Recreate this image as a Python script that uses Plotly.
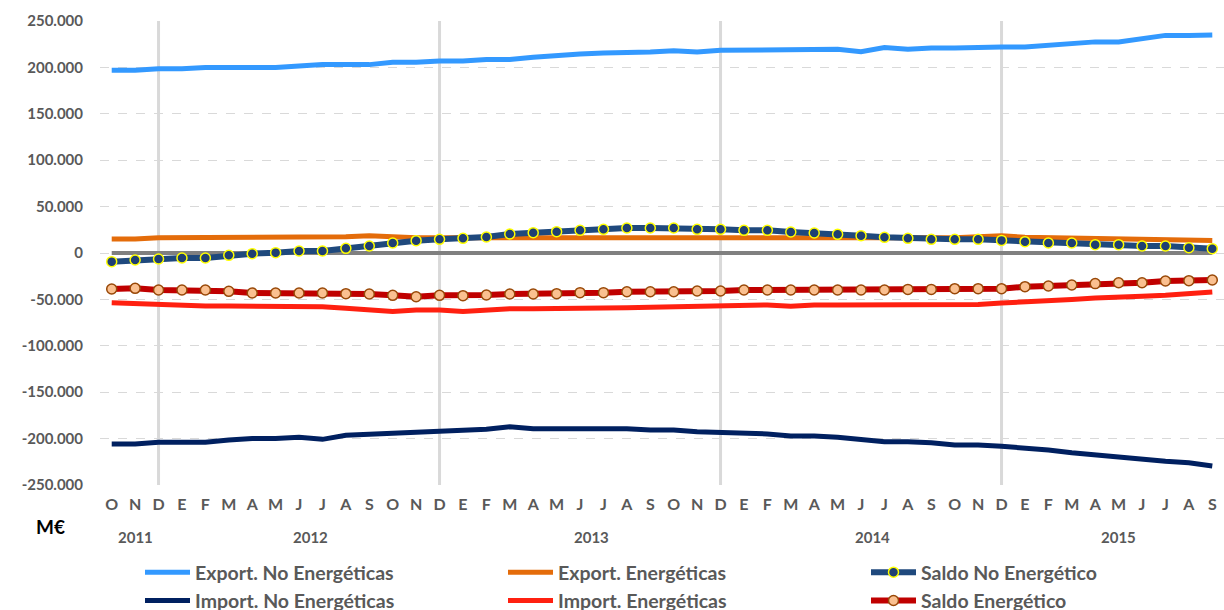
import plotly.graph_objects as go

months = ["O", "N", "D",
          "E", "F", "M", "A", "M", "J", "J", "A", "S", "O", "N", "D",
          "E", "F", "M", "A", "M", "J", "J", "A", "S", "O", "N", "D",
          "E", "F", "M", "A", "M", "J", "J", "A", "S", "O", "N", "D",
          "E", "F", "M", "A", "M", "J", "J", "A", "S"]
years = ["2011", "2012", "2013", "2014", "2015"]

export_no_energ = [197000, 197000, 198500, 198500, 200000, 200000, 200000, 200000, 201500, 203000,
                   203000, 203000, 205500, 205500, 207000, 207000, 208500, 208500, 211000, 213000,
                   214500, 215500, 215500, 216500, 218000, 216500, 218500, 218500, 219500, 219500,
                   219500, 219500, 217000, 221500, 219500, 221000, 221000, 222000, 222000, 222000,
                   224000, 226500, 227500, 227500, 231000, 234500, 234500, 235000]
export_energ = [15000, 15000, 16500, 16500, 16500, 16500, 16500, 16500, 16500, 17000,
                17500, 18500, 17000, 16500, 16500, 16500, 16500, 16500, 16500, 16500,
                16500, 16500, 16500, 16500, 16500, 16500, 16500, 16500, 16500, 16500,
                16500, 16000, 16000, 16000, 16000, 16000, 16500, 17500, 18500, 17000,
                16500, 16500, 16500, 15500, 15500, 15000, 14000, 13500]
saldo_no_energ = [-9300, -7500, -6500, -5400, -5400, -2500, -700, 400, 2200, 2200,
                  5000, 7500, 10800, 13300, 14700, 15800, 17200, 20500, 21900, 23000,
                  24400, 25500, 26900, 26900, 26900, 25500, 25500, 24400, 24400, 22600,
                  21600, 20100, 18700, 16900, 15800, 14700, 14700, 14700, 13600, 12200,
                  10800, 10800, 9000, 9000, 7500, 7500, 5700, 4700]
import_no_energ = [-205800, -205800, -204000, -204000, -204000, -201500, -200000, -200000, -198600, -200800,
                   -196500, -195400, -194300, -193200, -191800, -191800, -190000, -187200, -189300, -189300,
                   -189300, -189300, -189300, -190700, -190700, -192500, -193200, -193200, -195000, -197200,
                   -197200, -198600, -200400, -203300, -203300, -204400, -206900, -206900, -208300, -209800,
                   -212300, -215200, -217700, -219500, -222000, -224500, -226000, -229500]
import_energ = [-53500, -54500, -55500, -56000, -57000, -57000, -57000, -57500, -58000, -58000,
                -59500, -61000, -63000, -61500, -61500, -63000, -61500, -60000, -60000, -60000,
                -60000, -59500, -59000, -58500, -58000, -57000, -56500, -55500, -56000, -57500,
                -56000, -56000, -56000, -56000, -56000, -56000, -56000, -55500, -54000, -53000,
                -51500, -50000, -48500, -47000, -46500, -45500, -44000, -42000]
saldo_energ = [-38800, -38100, -39900, -39900, -39900, -41300, -43100, -43100, -43100, -43100,
               -43800, -44200, -45600, -47100, -45600, -46000, -45300, -44200, -44200, -43800,
               -42700, -42700, -41700, -41700, -41700, -41000, -41000, -39900, -39900, -39900,
               -39900, -39900, -39900, -39900, -39200, -39200, -38400, -38400, -38400, -36300,
               -35600, -34500, -33000, -32000, -32000, -30200, -29800, -29100]
baseline = [0, 0, 0, 0, 0, 0, 0, 0, 0, 0, 0, 0, 0, 0, 0, 0, 0, 0, 0, 0, 0, 0, 0, 0,
            0, 0, 0, 0, 0, 0, 0, 0, 0, 0, 0, 0, 0, 0, 0, 0, 0, 0, 0, 0, 0, 0, 0, 0]

y_tick_vals = [-250000, -200000, -150000, -100000, -50000, 0, 50000, 100000, 150000, 200000, 250000]
y_tick_text = ["-250.000", "-200.000", "-150.000", "-100.000", "-50.000", "0",
               "50.000", "100.000", "150.000", "200.000", "250.000"]

x = list(range(len(months)))

# year groups: a new year starts at each "E"
groups = [[]]
for i, m in enumerate(months):
    if m == "E" and groups[-1]:
        groups.append([])
    groups[-1].append(i)
year_centers = [sum(g) / len(g) for g in groups]
dec_idx = [i for i, m in enumerate(months) if m == "D"]

FONT = "Lato"
GREY = "#595959"

fig = go.Figure()
fig.add_trace(go.Scatter(x=x, y=baseline, mode="lines", line=dict(color="#808080", width=4),
                         showlegend=False, hoverinfo="skip"))
fig.add_trace(go.Scatter(x=x, y=export_no_energ, mode="lines", name="Export. No Energéticas",
                         line=dict(color="#3399FF", width=5), legendrank=1))
fig.add_trace(go.Scatter(x=x, y=export_energ, mode="lines", name="Export. Energéticas",
                         line=dict(color="#E46C0A", width=5), legendrank=2))
fig.add_trace(go.Scatter(x=x, y=import_no_energ, mode="lines", name="Import. No Energéticas",
                         line=dict(color="#002060", width=5), legendrank=4))
fig.add_trace(go.Scatter(x=x, y=import_energ, mode="lines", name="Import. Energéticas",
                         line=dict(color="#FF2010", width=5), legendrank=5))
fig.add_trace(go.Scatter(x=x, y=saldo_no_energ, mode="lines+markers", name="Saldo No Energético",
                         line=dict(color="#1F497D", width=6),
                         marker=dict(size=10, color="#1F3F73", line=dict(color="#FFFF00", width=1.5)),
                         legendrank=3))
fig.add_trace(go.Scatter(x=x, y=saldo_energ, mode="lines+markers", name="Saldo Energético",
                         line=dict(color="#C00000", width=6),
                         marker=dict(size=10, color="#FAC090", line=dict(color="#984807", width=1.5)),
                         legendrank=6))

for i in dec_idx:
    fig.add_shape(type="line", xref="x", yref="paper", x0=i, x1=i, y0=0, y1=1,
                  line=dict(color="#D9D9D9", width=3), layer="below")

for yr, c in zip(years, year_centers):
    fig.add_annotation(x=c, y=-0.112, xref="x", yref="paper", text=yr, showarrow=False,
                       xanchor="center", yanchor="middle",
                       font=dict(family=FONT, size=15, color=GREY, weight="bold"))
fig.add_annotation(x=-0.0436, y=-0.0884, xref="paper", yref="paper", text="M€", showarrow=False,
                   xanchor="center", yanchor="middle",
                   font=dict(family=FONT, size=19, color="#000000", weight="bold"))

fig.update_layout(
    width=1224, height=610,
    margin=dict(l=100, r=0, t=21, b=125),
    plot_bgcolor="white", paper_bgcolor="white",
    font=dict(family=FONT, color=GREY),
    xaxis=dict(range=[-0.5, len(months) - 0.5], tickmode="array", tickvals=x, ticktext=months,
               showgrid=False, zeroline=False, showline=False, ticks="",
               tickfont=dict(family=FONT, size=16, color=GREY, weight="bold"),
               ticklabelstandoff=8, fixedrange=True),
    yaxis=dict(range=[-250000, 250000], tickmode="array", tickvals=y_tick_vals, ticktext=y_tick_text,
               showgrid=True, gridcolor="#D9D9D9", griddash="dash", gridwidth=1,
               zeroline=False, showline=False, ticks="",
               tickfont=dict(family=FONT, size=15, color=GREY, weight="bold"),
               ticklabelstandoff=16, fixedrange=True),
    legend=dict(orientation="h", xref="container", yref="container", x=140 / 1224, y=1 - 553 / 610,
                xanchor="left", yanchor="top", entrywidth=303, itemwidth=45,
                font=dict(family=FONT, size=19.5, color=GREY, weight="bold"),
                bgcolor="rgba(0,0,0,0)"),
    hovermode=False,
)

fig.write_html("out.html", config={"displayModeBar": False},
               post_script="document.body.style.margin='0';document.body.style.overflow='hidden';")
